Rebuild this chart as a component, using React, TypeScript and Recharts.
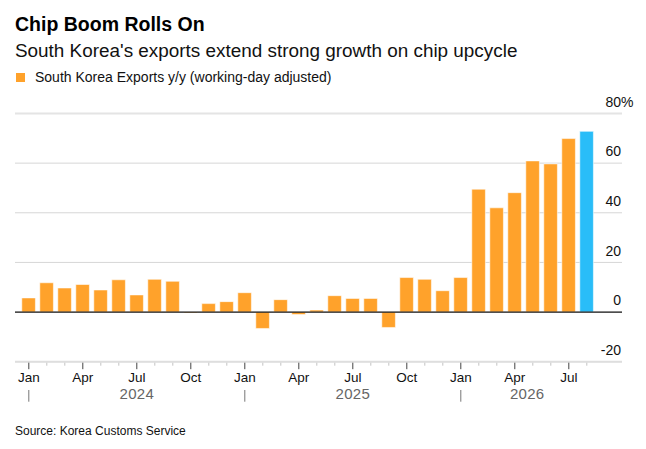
import React from 'react';
import { BarChart, Bar, XAxis, YAxis, CartesianGrid, ReferenceLine, Cell } from 'recharts';

const YEARS = [2024, 2025, 2026];
const MONTHS = ['Jan', 'Feb', 'Mar', 'Apr', 'May', 'Jun', 'Jul', 'Aug', 'Sep', 'Oct', 'Nov', 'Dec'];

// y/y % change, working-day adjusted
const exports2024 = [5.7, 11.8, 9.7, 11.1, 8.9, 13.0, 6.9, 13.2, 12.4, -0.4, 3.4, 4.2];
const exports2025 = [7.8, -6.6, 5.0, -1.0, 0.8, 6.6, 5.5, 5.5, -6.2, 13.9, 13.2, 8.6];
const exports2026 = [13.9, 49.5, 42.0, 48.1, 60.9, 59.7, 69.9, 72.8];

const yTicks = [-20, 0, 20, 40, 60, 80];
const majorMonths = ['Jan', 'Apr', 'Jul', 'Oct'];

const seriesByYear = [exports2024, exports2025, exports2026];
const data = YEARS.flatMap((year, yi) =>
  seriesByYear[yi].map((value, mi) => ({ period: `${MONTHS[mi]} ${year}`, month: MONTHS[mi], year, value }))
);

const FONT = '"Liberation Sans", Arial, Helvetica, sans-serif';
const ORANGE = '#ffa22b';
const BLUE = '#29bdf8';

const W = 646;
const H = 449;
const X_AXIS_H = 1;
const Y_AXIS_W = 1;
const MARGIN = { top: 113.5, right: 24 - Y_AXIS_W, bottom: 87.3 - X_AXIS_H, left: 15 };
const PAD = { left: 4.8, right: 26.2 };
const BAR_SIZE = 13.6;
const BAND = (W - 24 - MARGIN.left - PAD.left - PAD.right) / data.length;
const AXIS_Y = H - 87.3;

const renderMonthTick = (props: any) => {
  const { x, payload } = props;
  const y = AXIS_Y;
  const idx = data.findIndex((d) => d.period === payload.value);
  const row = data[idx];
  if (!row) return <g />;
  const major = majorMonths.includes(row.month);
  let yearLabel = null;
  if (row.month === 'Jan') {
    const remaining = data.length - idx;
    const span = remaining >= 12 ? 12 * BAND : (remaining - 1) * BAND + BAR_SIZE / 2;
    yearLabel = (
      <g>
        <line x1={x} x2={x} y1={y + 28.3} y2={y + 40} stroke="#777" strokeWidth={1} />
        <text x={x + span / 2} y={y + 37.6} textAnchor="middle" fontSize={15} letterSpacing={0.3} fill="#666" fontFamily={FONT}>
          {row.year}
        </text>
      </g>
    );
  }
  return (
    <g>
      <line x1={x} x2={x} y1={y + 1} y2={y + (major ? 7.5 : 4)} stroke={major ? '#444' : '#c4c4c4'} strokeWidth={1} />
      {major && (
        <text x={x} y={y + 20.3} textAnchor="middle" fontSize={13.5} fill="#111" fontFamily={FONT}>
          {row.month}
        </text>
      )}
      {yearLabel}
    </g>
  );
};

const renderValueTick = (props: any) => {
  const { y, payload } = props;
  const xr = W - 24 - 1;
  return (
    <g>
      <text x={xr} y={y - 6.8} textAnchor="end" fontSize={14} fill="#111" fontFamily={FONT}>
        {payload.value}
      </text>
      {payload.value === 80 && (
        <text x={xr} y={y - 6.8} textAnchor="start" fontSize={14} fill="#111" fontFamily={FONT}>
          %
        </text>
      )}
    </g>
  );
};

const App: React.FC = () => {
  return (
    <div style={{ position: 'absolute', left: 0, top: 0, width: W, height: H, background: '#fff', fontFamily: FONT }}>
      <div style={{ position: 'absolute', left: 15, top: 14.5, fontSize: 19.5, lineHeight: '19.5px', fontWeight: 700, color: '#000', whiteSpace: 'nowrap' }}>
        Chip Boom Rolls On
      </div>
      <div style={{ position: 'absolute', left: 15, top: 42.3, fontSize: 18.9, lineHeight: '18.9px', color: '#111', whiteSpace: 'nowrap' }}>
        South Korea's exports extend strong growth on chip upcycle
      </div>
      <div style={{ position: 'absolute', left: 16, top: 72.7, width: 9, height: 9, background: ORANGE }} />
      <div style={{ position: 'absolute', left: 35, top: 69.8, fontSize: 14, lineHeight: '14px', color: '#111', whiteSpace: 'nowrap' }}>
        South Korea Exports y/y (working-day adjusted)
      </div>

      <div style={{ position: 'absolute', left: 0, top: 0 }}>
        <BarChart width={W} height={H} data={data} margin={MARGIN}>
          <CartesianGrid vertical={false} stroke="#d6d6d6" strokeWidth={1} />
          <XAxis
            dataKey="period"
            height={X_AXIS_H}
            tickSize={0}
            tickMargin={0}
            axisLine={false}
            tickLine={false}
            interval={0}
            padding={PAD}
            tick={renderMonthTick}
          />
          <YAxis
            orientation="right"
            width={Y_AXIS_W}
            domain={[-20, 80]}
            ticks={yTicks}
            allowDataOverflow
            axisLine={false}
            tickLine={false}
            tickSize={0}
            interval={0}
            tick={renderValueTick}
          />
          <ReferenceLine y={80} stroke="#e4e4e4" strokeWidth={2} />
          <ReferenceLine y={-20} stroke="#dedede" strokeWidth={2} />
          <Bar dataKey="value" barSize={BAR_SIZE} stroke="#ffffff" strokeOpacity={0.55} strokeWidth={1} isAnimationActive={false}>
            {data.map((entry, index) => (
              <Cell key={`cell-${index}`} fill={index === data.length - 1 ? BLUE : ORANGE} />
            ))}
          </Bar>
          <ReferenceLine y={0} stroke="#1a1a1a" strokeWidth={1.3} />
        </BarChart>
      </div>

      <div style={{ position: 'absolute', left: 15, top: 424.8, fontSize: 12, lineHeight: '12px', color: '#111', whiteSpace: 'nowrap' }}>
        Source: Korea Customs Service
      </div>
    </div>
  );
};

export default App;
